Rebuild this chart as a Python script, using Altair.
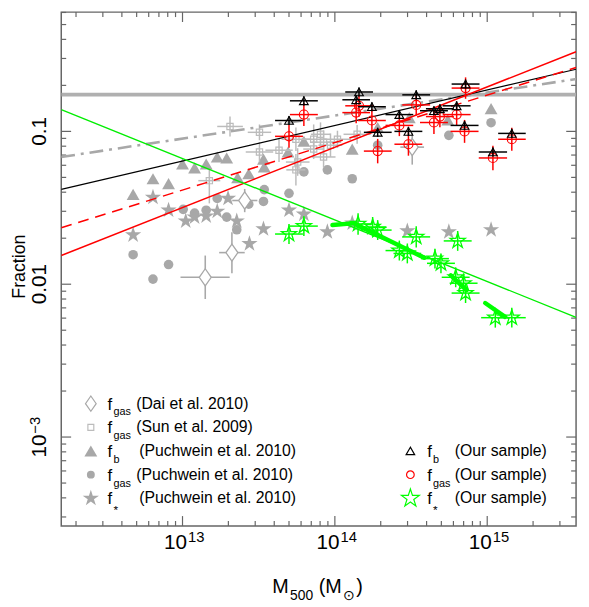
import altair as alt
import pandas as pd

FONT = "Liberation Sans"
GRAY = "#a8a8a8"
LGRAY = "#bcbcbc"
FRAME = "#666666"
W, H = 522, 521

X_DOMAIN = [1.6e12, 3.83e15]
Y_DOMAIN = [2.62e-4, 0.603]

# ---------------- Puchwein et al. 2010 ----------------
pu_fb_m = [4.74e12, 6.4e12, 8.1e12, 1.0e13, 1.2e13, 1.43e13, 1.69e13, 1.95e13, 2.3e13, 2.72e13,
           3.4e13, 3.44e13, 4.93e13, 6.26e13, 1.3e14, 1.91e14, 3.08e14, 5.51e14, 1.06e15]
pu_fb = [0.0387, 0.049, 0.0455, 0.0612, 0.0577, 0.0612, 0.068, 0.067, 0.0498, 0.0528,
         0.0659, 0.0586, 0.0733, 0.0862, 0.0766, 0.106, 0.123, 0.119, 0.141]

pu_fgas_m = [4.74e12, 6.4e12, 8.1e12, 1.01e13, 1.2e13, 1.43e13, 1.69e13, 1.95e13, 2.27e13, 2.72e13,
             3.4e13, 3.44e13, 5.0e13, 6.26e13, 8.93e13, 1.3e14, 1.91e14, 5.6e14, 1.06e15]
pu_fgas = [0.0156, 0.0108, 0.01345, 0.0309, 0.0292, 0.0305, 0.0364, 0.0275, 0.0227, 0.0334,
           0.0348, 0.0416, 0.0393, 0.0543, 0.056, 0.049, 0.0812, 0.0942, 0.114]

pu_fstar_m = [4.74e12, 6.4e12, 8.1e12, 1.05e13, 1.2e13, 1.43e13, 1.69e13, 1.99e13, 2.27e13, 2.75e13,
              3.4e13, 5.0e13, 6.26e13, 8.93e13, 1.3e14, 2.99e14, 5.6e14, 1.06e15]
pu_fstar = [0.021, 0.037, 0.0305, 0.0259, 0.0275, 0.0279, 0.030, 0.0364, 0.0259, 0.0184,
            0.023, 0.0305, 0.0287, 0.022, 0.0251, 0.0223, 0.022, 0.0227]

# ---------------- Dai et al. 2010 ----------------
dai_m = [1.41e13, 2.11e13, 2.56e13, 3.22e14]
dai_m_lo = [0.97e13, 1.74e13, 2.12e13, 2.69e14]
dai_m_hi = [2.04e13, 2.56e13, 3.1e13, 3.85e14]
dai_f = [0.0111, 0.0161, 0.0353, 0.0789]
dai_f_lo = [0.0080, 0.0118, 0.0296, 0.0606]
dai_f_hi = [0.0154, 0.0219, 0.042, 0.098]

# ---------------- Sun et al. 2009 ----------------
sun_m = [2.05e13, 3.2e13, 3.2e13, 1.5e13, 4.3e13, 5.55e13, 7.26e13, 8.05e13, 8.43e13, 9.36e13,
         1.04e14, 5.7e13, 8.43e13, 7.26e13, 1.4e14, 5.55e13]
sun_m_lo = [1.69e13, 2.68e13, 2.6e13, 1.27e13, 3.5e13, 4.47e13, 6.07e13, 6.96e13, 7.0e13, 7.8e13,
            8.5e13, 4.77e13, 7.05e13, 6.2e13, 1.14e14, 4.8e13]
sun_m_hi = [2.49e13, 3.82e13, 3.94e13, 1.77e13, 5.29e13, 6.89e13, 8.68e13, 9.31e13, 1.01e14, 1.12e14,
            1.28e14, 6.82e13, 1.01e14, 8.5e13, 1.72e14, 6.4e13]
sun_f = [0.1077, 0.0986, 0.0733, 0.0476, 0.0753, 0.0888, 0.0888, 0.0957, 0.085, 0.0812,
         0.0888, 0.063, 0.068, 0.0766, 0.0957, 0.056]
sun_f_lo = [0.0927, 0.0875, 0.0632, 0.0338, 0.063, 0.0743, 0.0712, 0.080, 0.0711, 0.068,
            0.078, 0.0512, 0.058, 0.066, 0.083, 0.0442]
sun_f_hi = [0.125, 0.111, 0.085, 0.056, 0.090, 0.106, 0.111, 0.1145, 0.1016, 0.097,
            0.101, 0.0776, 0.0797, 0.089, 0.11, 0.071]

# ---------------- Our sample ----------------
ours_m = [5.0e13, 6.26e13, 1.44e14, 1.38e14, 1.75e14, 1.91e14, 2.65e14, 3.04e14, 3.42e14, 4.47e14,
          4.89e14, 6.3e14, 7.21e14, 7.1e14, 1.09e15, 1.45e15]
ours_m_lo = [4.05e13, 5.07e13, 1.17e14, 1.12e14, 1.42e14, 1.55e14, 2.15e14, 2.46e14, 2.77e14, 3.62e14,
             3.96e14, 5.1e14, 5.84e14, 5.75e14, 8.8e14, 1.18e15]
ours_m_hi = [6.17e13, 7.73e13, 1.78e14, 1.7e14, 2.16e14, 2.36e14, 3.27e14, 3.75e14, 4.22e14, 5.52e14,
             6.04e14, 7.78e14, 8.9e14, 8.77e14, 1.35e15, 1.79e15]
ours_fb = [0.1178, 0.1585, 0.181, 0.161, 0.145, 0.0986, 0.1288, 0.100, 0.1734, 0.1365,
           0.1406, 0.147, 0.204, 0.1094, 0.0733, 0.097]
ours_fgas = [0.0928, 0.1288, 0.147, 0.1327, 0.1178, 0.0743, 0.1094, 0.0824, 0.149, 0.1143,
             0.125, 0.1288, 0.192, 0.100, 0.067, 0.0888]
ours_fb_err_dex = [0.03, 0.03, 0.03, 0.03, 0.03, 0.03, 0.03, 0.03, 0.03, 0.03, 0.03, 0.03, 0.03, 0.03, 0.03, 0.03]
ours_fgas_err_dex = [0.075, 0.075, 0.07, 0.07, 0.075, 0.08, 0.07, 0.075, 0.07, 0.075, 0.07, 0.07, 0.07, 0.075, 0.08, 0.075]

star_m = [5.0e13, 6.26e13, 1.42e14, 1.77e14, 1.91e14, 2.65e14, 2.99e14, 3.42e14, 4.54e14, 4.97e14,
          6.4e14, 6.21e14, 7.0e14, 7.21e14, 1.13e15, 1.45e15]
star_f = [0.0213, 0.024, 0.0248, 0.0237, 0.0226, 0.0166, 0.0159, 0.0204, 0.0147, 0.0137,
          0.0192, 0.0111, 0.01015, 0.00875, 0.00604, 0.00604]
star_f_err_dex = [0.065, 0.065, 0.07, 0.065, 0.065, 0.065, 0.065, 0.07, 0.065, 0.065,
                  0.065, 0.065, 0.065, 0.065, 0.065, 0.065]
# thick diagonal error segments of the stellar fraction
seg_m1 = [9.64e13, 1.36e14, 5.77e14, 9.7e14]
seg_f1 = [0.0244, 0.0248, 0.01143, 0.00753]
seg_m2 = [1.36e14, 3.86e14, 7.31e14, 1.31e15]
seg_f2 = [0.0251, 0.0149, 0.00914, 0.00612]

# ---------------- fitted relations ----------------
fit_m = [1.6e12, 3.83e15]
fit_black = [0.0418, 0.255]
fit_red = [0.0154, 0.332]
fit_red_dash = [0.0234, 0.262]
fit_gray_dashdot = [0.068, 0.22]
fit_green = [0.139, 0.00607]
f_cosmic = [0.174, 0.174]

# ---------------- ticks / labels ----------------
x_major = [1e13, 1e14, 1e15]
x_minor = [k * 10.0 ** e for e in (12, 13, 14, 15) for k in range(2, 10)
           if X_DOMAIN[0] < k * 10.0 ** e < X_DOMAIN[1]]
y_major = [1e-3, 1e-2, 1e-1]
y_minor = [k * 10.0 ** e for e in (-4, -3, -2, -1) for k in range(2, 10)
           if Y_DOMAIN[0] < k * 10.0 ** e < Y_DOMAIN[1]]
x_tick_labels = ["10", "10", "10"]
x_tick_exps = ["13", "14", "15"]

STAR = ("M0,-1L0.2245,-0.309L0.951,-0.309L0.363,0.118L0.588,0.809L0,0.382"
        "L-0.588,0.809L-0.363,0.118L-0.951,-0.309L-0.2245,-0.309Z")
DIAMOND = "M0,-1L0.7,0L0,1L-0.7,0Z"

xsc = alt.Scale(type="log", domain=X_DOMAIN, nice=False)
ysc = alt.Scale(type="log", domain=Y_DOMAIN, nice=False)


def X(f):
    return alt.X(f, type="quantitative", scale=xsc, axis=None)


def Y(f):
    return alt.Y(f, type="quantitative", scale=ysc, axis=None)


layers = []

# ticks (inward, all four sides)
xmaj = pd.DataFrame({"v": x_major})
xmin = pd.DataFrame({"v": x_minor})
ymaj = pd.DataFrame({"v": y_major})
ymin = pd.DataFrame({"v": y_minor})
for df, ln in ((xmaj, 10), (xmin, 5)):
    layers.append(alt.Chart(df).mark_rule(color=FRAME, strokeWidth=1.2).encode(
        x=X("v"), y=alt.value(H), y2=alt.value(H - ln)))
    layers.append(alt.Chart(df).mark_rule(color=FRAME, strokeWidth=1.2).encode(
        x=X("v"), y=alt.value(0), y2=alt.value(ln)))
for df, ln in ((ymaj, 10), (ymin, 5)):
    layers.append(alt.Chart(df).mark_rule(color=FRAME, strokeWidth=1.2).encode(
        y=Y("v"), x=alt.value(0), x2=alt.value(ln)))
    layers.append(alt.Chart(df).mark_rule(color=FRAME, strokeWidth=1.2).encode(
        y=Y("v"), x=alt.value(W), x2=alt.value(W - ln)))

# cosmic baryon fraction
cos_df = pd.DataFrame({"m": fit_m, "f": f_cosmic})
layers.append(alt.Chart(cos_df).mark_line(color="#b0b0b0", strokeWidth=4, clip=True).encode(
    x=X("m"), y=Y("f")))

# Puchwein
layers.append(alt.Chart(pd.DataFrame({"m": pu_fgas_m, "f": pu_fgas})).mark_point(
    shape="circle", filled=True, size=95, color=GRAY, opacity=1).encode(x=X("m"), y=Y("f")))
layers.append(alt.Chart(pd.DataFrame({"m": pu_fstar_m, "f": pu_fstar})).mark_point(
    shape=STAR, filled=True, size=300, color=GRAY, opacity=1).encode(x=X("m"), y=Y("f")))
layers.append(alt.Chart(pd.DataFrame({"m": pu_fb_m, "f": pu_fb})).mark_point(
    shape="triangle-up", filled=True, size=170, color=GRAY, opacity=1).encode(x=X("m"), y=Y("f")))

# Sun et al.
sun = pd.DataFrame({"m": sun_m, "mlo": sun_m_lo, "mhi": sun_m_hi,
                    "f": sun_f, "flo": sun_f_lo, "fhi": sun_f_hi})
layers.append(alt.Chart(sun).mark_rule(color=LGRAY, strokeWidth=1.5).encode(
    x=X("mlo"), x2="mhi", y=Y("f")))
layers.append(alt.Chart(sun).mark_rule(color=LGRAY, strokeWidth=1.5).encode(
    x=X("m"), y=Y("flo"), y2="fhi"))
layers.append(alt.Chart(sun).mark_point(shape="square", size=40, filled=False, color=LGRAY,
                                        strokeWidth=1.2, opacity=1).encode(x=X("m"), y=Y("f")))

# Dai et al.
dai = pd.DataFrame({"m": dai_m, "mlo": dai_m_lo, "mhi": dai_m_hi,
                    "f": dai_f, "flo": dai_f_lo, "fhi": dai_f_hi})
layers.append(alt.Chart(dai).mark_rule(color=GRAY, strokeWidth=1.6).encode(
    x=X("mlo"), x2="mhi", y=Y("f")))
layers.append(alt.Chart(dai).mark_rule(color=GRAY, strokeWidth=1.6).encode(
    x=X("m"), y=Y("flo"), y2="fhi"))
layers.append(alt.Chart(dai).mark_point(shape=DIAMOND, size=300, filled=True, fill="white",
                                        stroke=GRAY, strokeWidth=1.3, opacity=1).encode(x=X("m"), y=Y("f")))


# fitted lines
def fit_layer(vals, color, width, dash=None):
    kw = dict(color=color, strokeWidth=width, clip=True)
    if dash:
        kw["strokeDash"] = dash
    return alt.Chart(pd.DataFrame({"m": fit_m, "f": vals})).mark_line(**kw).encode(
        x=X("m"), y=Y("f"))


layers.append(fit_layer(fit_gray_dashdot, "#a8a8a8", 2.6, [14, 6, 3, 6]))
layers.append(fit_layer(fit_black, "black", 1.3))
layers.append(fit_layer(fit_red_dash, "#ff0000", 1.5, [11, 7]))
layers.append(fit_layer(fit_red, "#ff0000", 1.5))
layers.append(fit_layer(fit_green, "#00ee00", 1.4))

# our sample
ours = pd.DataFrame({"m": ours_m, "mlo": ours_m_lo, "mhi": ours_m_hi,
                     "fb": ours_fb, "fgas": ours_fgas,
                     "fbe": ours_fb_err_dex, "fge": ours_fgas_err_dex})
ours["fb_lo"] = ours["fb"] / 10 ** ours["fbe"]
ours["fb_hi"] = ours["fb"] * 10 ** ours["fbe"]
ours["fg_lo"] = ours["fgas"] / 10 ** ours["fge"]
ours["fg_hi"] = ours["fgas"] * 10 ** ours["fge"]

stars = pd.DataFrame({"m": star_m, "f": star_f, "e": star_f_err_dex})
stars["mlo"] = ours["mlo"] / ours["m"] * stars["m"]
stars["mhi"] = ours["mhi"] / ours["m"] * stars["m"]
stars["flo"] = stars["f"] / 10 ** stars["e"]
stars["fhi"] = stars["f"] * 10 ** stars["e"]

GREEN = "#00ff00"
segs = pd.DataFrame({"m1": seg_m1, "f1": seg_f1, "m2": seg_m2, "f2": seg_f2})
layers.append(alt.Chart(segs).mark_rule(color=GREEN, strokeWidth=4.5, strokeCap="round").encode(
    x=X("m1"), y=Y("f1"), x2="m2", y2="f2"))
layers.append(alt.Chart(stars).mark_rule(color=GREEN, strokeWidth=1.5).encode(
    x=X("mlo"), x2="mhi", y=Y("f")))
layers.append(alt.Chart(stars).mark_rule(color=GREEN, strokeWidth=1.5).encode(
    x=X("m"), y=Y("flo"), y2="fhi"))
layers.append(alt.Chart(stars).mark_point(shape=STAR, size=260, filled=False, color=GREEN,
                                          strokeWidth=1.3, opacity=1).encode(x=X("m"), y=Y("f")))

layers.append(alt.Chart(ours).mark_rule(color="#ff0000", strokeWidth=1.5).encode(
    x=X("mlo"), x2="mhi", y=Y("fgas")))
layers.append(alt.Chart(ours).mark_rule(color="#ff0000", strokeWidth=1.5).encode(
    x=X("m"), y=Y("fg_lo"), y2="fg_hi"))
layers.append(alt.Chart(ours).mark_point(shape="circle", size=85, filled=False, color="#ff0000",
                                         strokeWidth=1.1, opacity=1).encode(x=X("m"), y=Y("fgas")))
layers.append(alt.Chart(ours).mark_rule(color="black", strokeWidth=1.5).encode(
    x=X("mlo"), x2="mhi", y=Y("fb")))
layers.append(alt.Chart(ours).mark_rule(color="black", strokeWidth=1.5).encode(
    x=X("m"), y=Y("fb_lo"), y2="fb_hi"))
layers.append(alt.Chart(ours).mark_point(shape="triangle-up", size=80, filled=False, color="black",
                                         strokeWidth=1.1, opacity=1).encode(x=X("m"), y=Y("fb")))

# ---------------- text helpers ----------------
ONE = pd.DataFrame({"a": [0]})


def txt(s, x, y, size, align="left", baseline="alphabetic", angle=0, color="black"):
    return alt.Chart(ONE).mark_text(text=s, align=align, baseline=baseline, fontSize=size,
                                    angle=angle, font=FONT, color=color).encode(
        x=alt.value(x), y=alt.value(y))


def sym(shape, x, y, size, color, filled, sw=1.2):
    kw = dict(shape=shape, size=size, opacity=1, strokeWidth=sw, filled=filled, color=color)
    return alt.Chart(ONE).mark_point(**kw).encode(x=alt.value(x), y=alt.value(y))


# x tick labels
xl = pd.DataFrame({"v": x_major, "b": x_tick_labels, "e": x_tick_exps})
layers.append(alt.Chart(xl).mark_text(dx=-7, align="center", baseline="middle", fontSize=21,
                                      font=FONT, color="black").encode(
    x=X("v"), y=alt.value(538), text="b"))
layers.append(alt.Chart(xl).mark_text(dx=14, align="center", baseline="middle", fontSize=15,
                                      font=FONT, color="black").encode(
    x=X("v"), y=alt.value(532), text="e"))

# y tick labels (rotated)
yl = pd.DataFrame({"v": [1e-1, 1e-2], "t": ["0.1", "0.01"]})
layers.append(alt.Chart(yl).mark_text(angle=270, align="center", baseline="middle", fontSize=21,
                                      font=FONT, color="black").encode(
    y=Y("v"), x=alt.value(-21.5), text="t"))
yl3 = pd.DataFrame({"v": [1e-3], "b": ["10"], "e": ["\u22123"]})
layers.append(alt.Chart(yl3).mark_text(angle=270, align="center", baseline="middle", fontSize=21,
                                       dx=-9, font=FONT, color="black").encode(
    y=Y("v"), x=alt.value(-21.5), text="b"))
layers.append(alt.Chart(yl3).mark_text(angle=270, align="center", baseline="middle", fontSize=15,
                                       dx=12, dy=-5, font=FONT, color="black").encode(
    y=Y("v"), x=alt.value(-21.5), text="e"))

# axis titles
layers.append(txt("Fraction", -42, 258, 18, align="center", baseline="middle", angle=270))
layers.append(txt("M", 214, 589, 20))
layers.append(txt("500", 232, 596, 14))
layers.append(txt("(M", 261, 589, 20))
layers.append(txt("\u2299", 286, 596, 14))
layers.append(txt(")", 299, 589, 20))

# ---------------- legend ----------------
rows = [397, 421, 445, 469, 493]
left_items = [
    (DIAMOND, 240, GRAY, False, "gas", "(Dai et al. 2010)", 76),
    ("square", 36, LGRAY, False, "gas", "(Sun et al. 2009)", 76),
    ("triangle-up", 170, GRAY, True, "b", "(Puchwein et al. 2010)", 79),
    ("circle", 64, GRAY, True, "gas", "(Puchwein et al. 2010)", 76),
    (STAR, 300, GRAY, True, "*", "(Puchwein et al. 2010)", 79),
]
for (shape, size, color, filled, sub, desc, dx), ry in zip(left_items, rows):
    layers.append(sym(shape, 30, ry, size, color, filled))
    layers.append(txt("f", 47, ry + 6, 17))
    layers.append(txt(sub, 53, ry + (16 if sub == "*" else 12), 12 if sub == "*" else 11))
    layers.append(txt(desc, dx, ry, 16, baseline="middle"))

right_items = [
    ("triangle-up", 75, "black", "b", rows[2]),
    ("circle", 60, "#ff0000", "gas", rows[3]),
    (STAR, 360, GREEN, "*", rows[4]),
]
for shape, size, color, sub, ry in right_items:
    layers.append(sym(shape, 354, ry, size, color, False, sw=1.2))
    layers.append(txt("f", 371, ry + 6, 17))
    layers.append(txt(sub, 377, ry + (16 if sub == "*" else 12), 12 if sub == "*" else 11))
    layers.append(txt("(Our sample)", 399, ry, 16, baseline="middle"))

chart = alt.layer(*layers).properties(
    width=W, height=H,
    background="white",
    autosize=alt.AutoSizeParams(type="none"),
    padding={"left": 54, "top": 0, "right": 5, "bottom": 78},
).configure_view(stroke=FRAME, strokeWidth=1.5)

chart.save("out.html", embed_options={"renderer": "svg", "actions": False})
